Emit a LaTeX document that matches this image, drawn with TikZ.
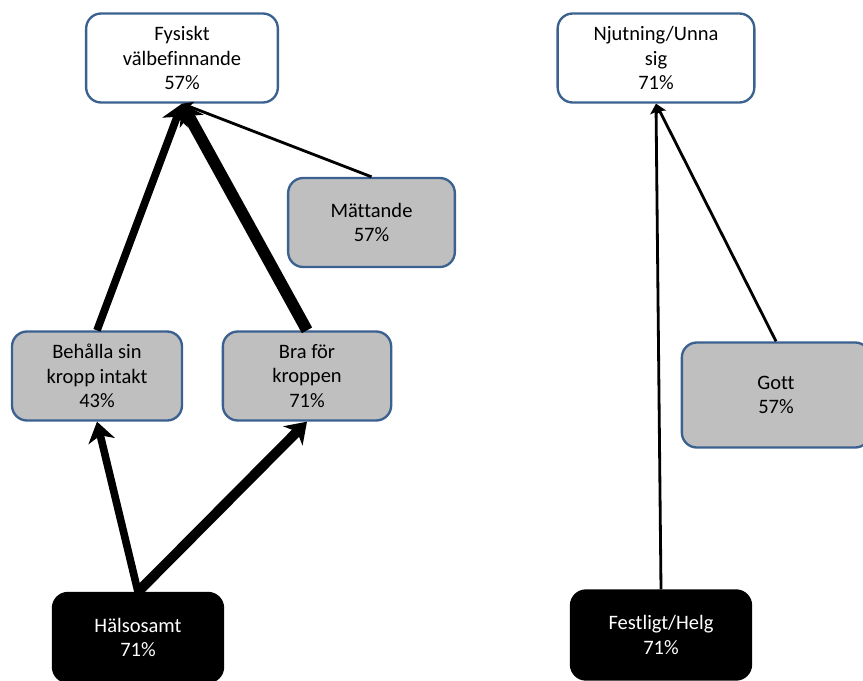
\documentclass[tikz,border=0pt]{standalone}
\usepackage{fontspec}
\setmainfont[Ligatures=NoCommon]{Carlito}
\usepackage{xcolor}
\usepackage{tikz}
\usetikzlibrary{arrows.meta,positioning}
\definecolor{cLine}{HTML}{3B6190}
\definecolor{cGrey}{HTML}{BFBFBF}
\tikzset{
  box/.style={rounded corners=0.45cm, draw=#1, line width=2pt,
              text=black, align=center, font=\fontsize{17.5}{21}\selectfont,
              minimum height=2.67cm, inner sep=3pt},
  goal/.style={box=cLine, fill=white},
  attr/.style={box=cLine, fill=cGrey},
  cue/.style={box=black, fill=black, text=white},
  heavy/.style={line width=#1, draw=black,
                -{Stealth[length=17pt, width=23pt, inset=5pt]}},
  slim/.style={line width=2.4pt, draw=black,
               -{Stealth[length=9pt, width=10pt, inset=2pt]}},
}

\begin{document}
\begin{tikzpicture}[x=0.03cm, y=-0.03cm]
  \useasboundingbox (0,0) rectangle (863,681);
  % left ladder
  \node[goal, minimum width=5.75cm] (fysiskt) at (182,58) {Fysiskt\\välbefinnande\\57\%};
  \node[attr, minimum width=5.0cm] (mattande) at (371.5,222.5) {Mättande\\57\%};
  \node[attr, minimum width=5.1cm] (behalla) at (97,376) {Behålla sin\\kropp intakt\\43\%};
  \node[attr, minimum width=5.05cm] (brafor) at (307,376) {Bra för\\kroppen\\71\%};
  \node[cue, minimum width=5.1cm] (halsosamt) at (138,637.5) {Hälsosamt\\71\%};
  % right ladder
  \node[goal, minimum width=5.9cm] (njutning) at (656,58) {Njutning/Unna\\sig\\71\%};
  \node[attr, minimum width=5.65cm, minimum height=3.15cm] (gott) at (776,395) {Gott\\57\%};
  \node[cue, minimum width=5.4cm] (festligt) at (661,635) {Festligt/Helg\\71\%};

  \draw[slim] (mattande.north) -- (fysiskt.south);
  \draw[heavy=6.5pt] (behalla.north) -- (fysiskt.south);
  \draw[heavy=10pt] (brafor.north) -- (fysiskt.south);
  \draw[heavy=6.5pt] (halsosamt.north) -- (behalla.south);
  \draw[heavy=8.5pt] (halsosamt.north) -- (brafor.south);
  \draw[slim] (festligt.north) -- (njutning.south);
  \draw[slim] (gott.north) -- (njutning.south);
\end{tikzpicture}
\end{document}
